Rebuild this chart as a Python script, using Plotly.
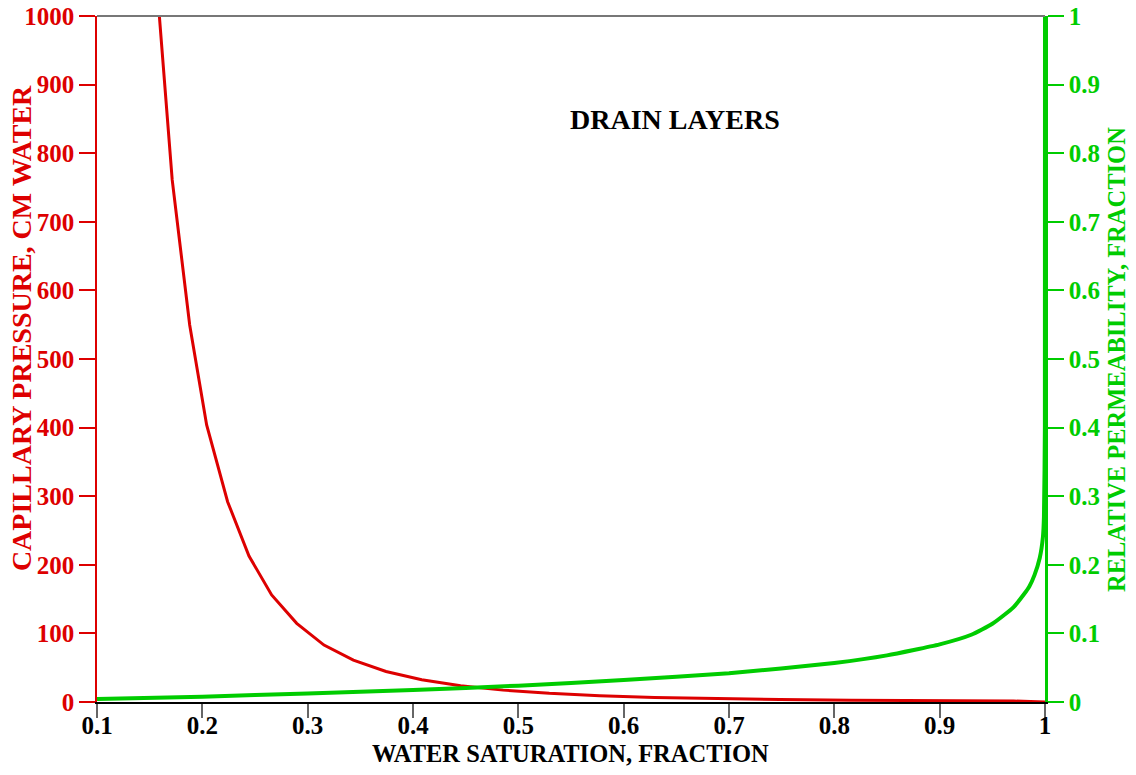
import plotly.graph_objects as go

# Capillary pressure curve (cm water) vs water saturation
sw_pc = [0.157, 0.1714, 0.188, 0.2041, 0.224, 0.2443, 0.2658, 0.2896, 0.3155, 0.3434,
         0.3744, 0.4083, 0.4452, 0.4855, 0.5294, 0.5772, 0.6294, 0.6863, 0.7484,
         0.8160, 0.8898, 0.9702, 1.0]
pc = [1043, 761, 549.6, 403.8, 292, 212.8, 156, 114.7, 83, 61,
      44.5, 32.5, 23.7, 17.3, 12.6, 9.2, 6.7, 4.9, 3.6,
      2.6, 1.9, 1.4, 0.0]

# Relative permeability curve vs water saturation
sw_kr = [0.1, 0.2, 0.3, 0.4, 0.5, 0.6, 0.7, 0.8, 0.85, 0.9, 0.93, 0.95,
         0.97, 0.98, 0.985, 0.99, 0.995, 0.998, 0.999, 0.9999, 1.0]
kr = [0.0044, 0.0077, 0.0125, 0.0175, 0.0238, 0.032, 0.0418, 0.057, 0.068, 0.084,
      0.098, 0.114, 0.138, 0.157, 0.168, 0.185, 0.21, 0.24, 0.27, 0.40, 1.0]

x_ticks = [0.1, 0.2, 0.3, 0.4, 0.5, 0.6, 0.7, 0.8, 0.9, 1.0]
x_tick_text = ["0.1", "0.2", "0.3", "0.4", "0.5", "0.6", "0.7", "0.8", "0.9", "1"]
y_ticks = [0, 100, 200, 300, 400, 500, 600, 700, 800, 900, 1000]
y2_ticks = [0, 0.1, 0.2, 0.3, 0.4, 0.5, 0.6, 0.7, 0.8, 0.9, 1.0]
y2_tick_text = ["0", "0.1", "0.2", "0.3", "0.4", "0.5", "0.6", "0.7", "0.8", "0.9", "1"]

RED = "#dd0000"
GREEN = "#00cc00"
FONT = "Liberation Serif"

fig = go.Figure()
fig.add_trace(go.Scatter(x=sw_pc, y=pc, mode="lines",
                         line=dict(color=RED, width=3), yaxis="y", showlegend=False))
fig.add_trace(go.Scatter(x=sw_kr, y=kr, mode="lines",
                         line=dict(color=GREEN, width=4, shape="spline", smoothing=0.5),
                         yaxis="y2", showlegend=False))

# plot area: x 97..1045, y 16..702 (686 px tall, 948 px wide)
fig.update_layout(
    width=1136, height=775,
    margin=dict(l=97, r=91, t=16, b=73),
    plot_bgcolor="white", paper_bgcolor="white",
    font=dict(family=FONT, size=25, color="black"),
    xaxis=dict(
        range=[0.1, 1.0], tickvals=x_ticks, ticktext=x_tick_text,
        showgrid=False, zeroline=False, automargin=False,
        showline=True, linecolor="black", linewidth=1.5,
        ticks="outside", ticklen=14, tickcolor="#666666", tickwidth=1.5,
        ticklabelstandoff=-14, ticklabeloverflow="allow",
        tickfont=dict(family=FONT, size=25, color="black", weight="bold"),
    ),
    yaxis=dict(
        range=[0, 1000], tickvals=y_ticks,
        showgrid=False, zeroline=False, automargin=False,
        showline=True, linecolor=RED, linewidth=1.5,
        ticks="outside", ticklen=16, tickcolor=RED, tickwidth=1.5,
        ticklabeloverflow="allow",
        tickfont=dict(family=FONT, size=25, color=RED, weight="bold"),
    ),
    yaxis2=dict(
        range=[0, 1], tickvals=y2_ticks, ticktext=y2_tick_text,
        overlaying="y", side="right", anchor="x",
        showgrid=False, zeroline=False, automargin=False,
        showline=True, linecolor=GREEN, linewidth=2.5,
        ticks="outside", ticklen=16, tickcolor=GREEN, tickwidth=1.5,
        ticklabeloverflow="allow",
        tickfont=dict(family=FONT, size=25, color=GREEN, weight="bold"),
    ),
    shapes=[dict(type="line", xref="paper", yref="paper", x0=0, x1=1, y0=1, y1=1,
                 line=dict(color="#777777", width=2))],
    annotations=[
        dict(text="<b>DRAIN LAYERS</b>", x=0.61, y=0.849, xref="paper", yref="paper",
             xanchor="center", yanchor="middle",
             showarrow=False, font=dict(family=FONT, size=28, color="black")),
        dict(text="<b>WATER SATURATION, FRACTION</b>", x=0.499, y=-0.0758,
             xref="paper", yref="paper", xanchor="center", yanchor="middle",
             showarrow=False, font=dict(family=FONT, size=24.5, color="black")),
        dict(text="<b>CAPILLARY PRESSURE, CM WATER</b>", x=-0.0795, y=0.5445,
             xref="paper", yref="paper", xanchor="center", yanchor="middle", textangle=-90,
             showarrow=False, font=dict(family=FONT, size=28, color=RED)),
        dict(text="<b>RELATIVE PERMEABILITY, FRACTION</b>", x=1.0749, y=0.4985,
             xref="paper", yref="paper", xanchor="center", yanchor="middle", textangle=-90,
             showarrow=False, font=dict(family=FONT, size=24.5, color=GREEN)),
    ],
)

fig.write_html("out.html",
               config={"displayModeBar": False},
               post_script="document.body.style.margin='0px';document.body.style.overflow='hidden';")
